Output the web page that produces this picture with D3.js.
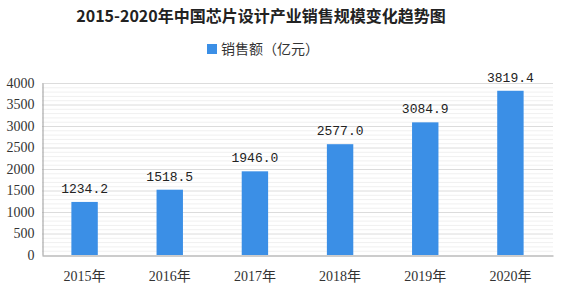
<html>
<head>
<style>
  body { margin: 0; background: #fff; }
  text { font-family: "Liberation Serif", "Noto Sans CJK SC", serif; }
</style>
</head>
<body>
<svg id="chart" width="567" height="290"></svg>
<script src="https://d3js.org/d3.v7.min.js"></script>
<script>
    // data
    let years = ["2015年", "2016年", "2017年", "2018年", "2019年", "2020年"]
    let sales = [1234.2, 1518.5, 1946.0, 2577.0, 3084.9, 3819.4]
    let yTicks = [0, 500, 1000, 1500, 2000, 2500, 3000, 3500, 4000]

    let svg = d3.select("#chart")
    let plotLeft = 42, plotRight = 553, plotTop = 83, plotBottom = 255

    let x = d3.scaleBand().domain(years).range([plotLeft, plotRight]).paddingInner(0.69).paddingOuter(0.345)
    let y = d3.scaleLinear().domain([0, 4000]).range([plotBottom, plotTop])

    // title
    svg.append("text")
        .attr("x", 261).attr("y", 22)
        .attr("text-anchor", "middle")
        .attr("font-size", 16).attr("font-weight", "bold")
        .attr("fill", "#222")
        .style("font-family", "'Noto Sans CJK SC', sans-serif")
        .text("2015-2020年中国芯片设计产业销售规模变化趋势图")

    // legend
    svg.append("rect").attr("x", 207).attr("y", 44).attr("width", 10).attr("height", 10).attr("fill", "#3b8fe6")
    svg.append("text")
        .attr("x", 221).attr("y", 54)
        .attr("font-size", 14).attr("fill", "#333")
        .style("font-family", "'Noto Sans CJK SC', sans-serif")
        .text("销售额（亿元）")

    // faint minor lines
    svg.append("g").selectAll("line")
        .data(d3.range(100, 4001, 100))
        .join("line")
        .attr("x1", plotLeft).attr("x2", plotRight)
        .attr("y1", d => y(d) + 0.5).attr("y2", d => y(d) + 0.5)
        .attr("stroke", d => d % 500 == 0 ? "#dcdcdc" : "#f0f0f0")

    // y axis
    let yAxis = d3.axisLeft(y).tickValues(yTicks).tickFormat(d3.format("d")).tickSize(0).tickPadding(8)
    let yg = svg.append("g").attr("transform", `translate(${plotLeft + 0.5},0)`).call(yAxis)
    yg.select(".domain").attr("stroke", "#999")
    yg.selectAll("text").attr("font-size", 14).attr("fill", "#333")
        .style("font-family", "'Liberation Serif', serif")

    // x axis
    let xAxis = d3.axisBottom(x).tickSize(0).tickPadding(16)
    let xg = svg.append("g").attr("transform", `translate(0,${plotBottom + 0.5})`).call(xAxis)
    xg.select(".domain").attr("stroke", "#999")
    xg.selectAll("text").attr("font-size", 14).attr("fill", "#333")
        .style("font-family", "'Liberation Serif', 'Noto Sans CJK SC', serif")

    // bars
    svg.append("g").selectAll("rect")
        .data(sales)
        .join("rect")
        .attr("x", (d, i) => x(years[i]))
        .attr("y", d => y(d))
        .attr("width", x.bandwidth())
        .attr("height", d => plotBottom - y(d))
        .attr("fill", "#3b8fe6")

    // value labels
    svg.append("g").selectAll("text")
        .data(sales)
        .join("text")
        .attr("x", (d, i) => x(years[i]) + x.bandwidth() / 2)
        .attr("y", d => y(d) - 9)
        .attr("text-anchor", "middle")
        .attr("font-size", 13).attr("fill", "#222")
        .style("font-family", "'Liberation Mono', monospace")
        .text(d => d.toFixed(1))
</script>
</body>
</html>
